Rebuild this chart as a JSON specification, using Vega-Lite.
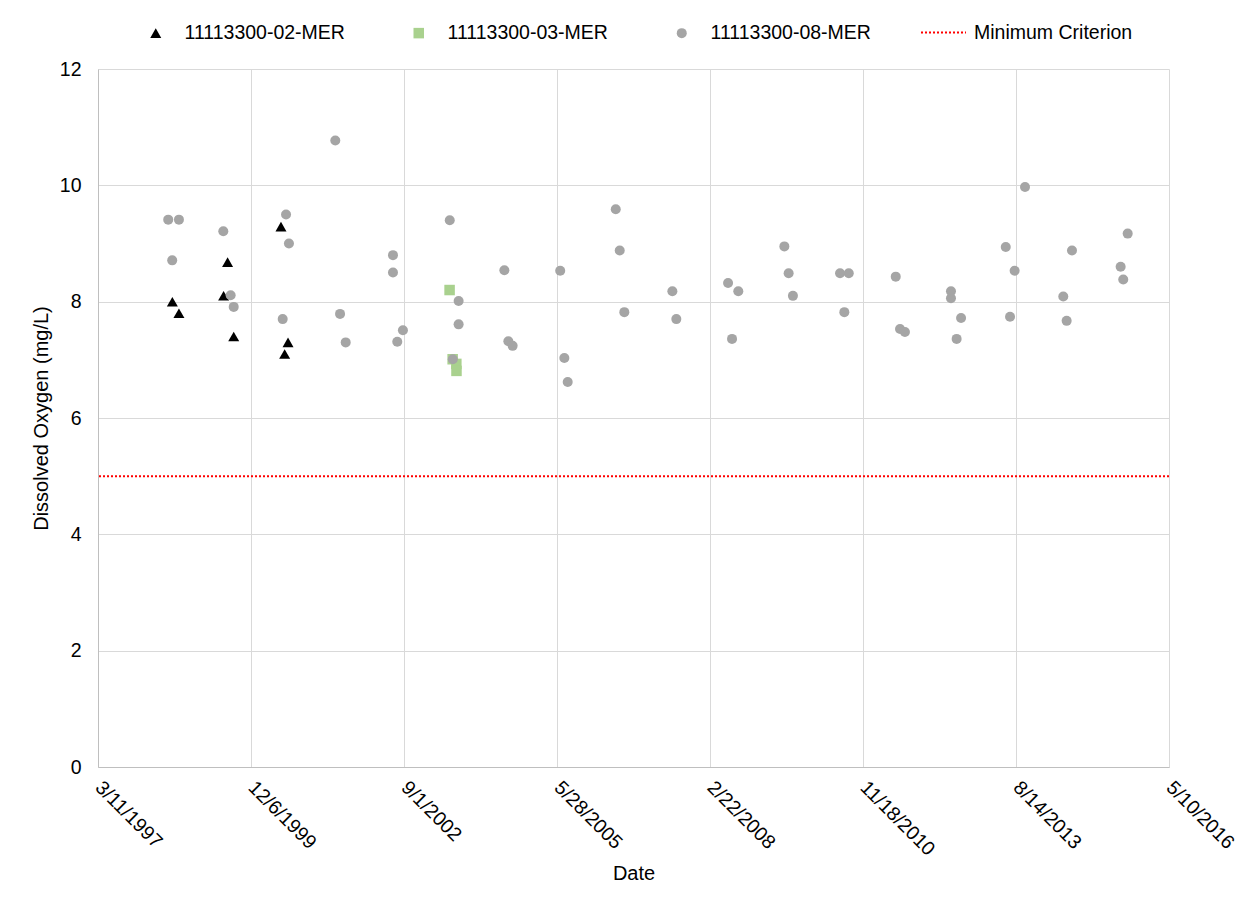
{
  "$schema": "https://vega.github.io/schema/vega-lite/v6.json",
  "width": 1071,
  "height": 698,
  "autosize": {"type": "none"},
  "padding": {"left": 98, "top": 69, "right": 81, "bottom": 136},
  "background": "white",
  "config": {
    "font": "Liberation Sans",
    "view": {"stroke": null},
    "axis": {
      "labelFont": "Liberation Sans",
      "titleFont": "Liberation Sans",
      "labelColor": "#000000",
      "titleColor": "#000000",
      "labelFontSize": 19.5,
      "titleFontSize": 20,
      "titleFontWeight": "normal",
      "gridColor": "#D9D9D9",
      "gridWidth": 1,
      "domainColor": "#BFBFBF",
      "ticks": false,
      "tickSize": 0
    },
    "legend": {
      "labelFont": "Liberation Sans",
      "labelFontSize": 19.5,
      "labelColor": "#000000",
      "labelLimit": 0,
      "padding": 0
    }
  },
  "layer": [
    {
      "data": {
        "values": [
          {"date": "1998-07-10", "do": 8.00, "site": "11113300-02-MER"},
          {"date": "1998-08-22", "do": 7.80, "site": "11113300-02-MER"},
          {"date": "1999-06-10", "do": 8.10, "site": "11113300-02-MER"},
          {"date": "1999-07-06", "do": 8.68, "site": "11113300-02-MER"},
          {"date": "1999-08-15", "do": 7.40, "site": "11113300-02-MER"},
          {"date": "2000-06-19", "do": 9.29, "site": "11113300-02-MER"},
          {"date": "2000-07-13", "do": 7.10, "site": "11113300-02-MER"},
          {"date": "2000-08-04", "do": 7.30, "site": "11113300-02-MER"},
          {"date": "2003-06-26", "do": 8.20, "site": "11113300-03-MER"},
          {"date": "2003-07-16", "do": 7.01, "site": "11113300-03-MER"},
          {"date": "2003-08-09", "do": 6.93, "site": "11113300-03-MER"},
          {"date": "2003-08-10", "do": 6.81, "site": "11113300-03-MER"},
          {"date": "1998-06-13", "do": 9.41, "site": "11113300-08-MER"},
          {"date": "1998-08-22", "do": 9.41, "site": "11113300-08-MER"},
          {"date": "1998-07-09", "do": 8.71, "site": "11113300-08-MER"},
          {"date": "1999-06-08", "do": 9.21, "site": "11113300-08-MER"},
          {"date": "1999-07-26", "do": 8.11, "site": "11113300-08-MER"},
          {"date": "1999-08-15", "do": 7.91, "site": "11113300-08-MER"},
          {"date": "2000-07-22", "do": 9.50, "site": "11113300-08-MER"},
          {"date": "2000-08-10", "do": 9.00, "site": "11113300-08-MER"},
          {"date": "2000-06-30", "do": 7.70, "site": "11113300-08-MER"},
          {"date": "2001-06-09", "do": 10.77, "site": "11113300-08-MER"},
          {"date": "2001-07-10", "do": 7.79, "site": "11113300-08-MER"},
          {"date": "2001-08-16", "do": 7.30, "site": "11113300-08-MER"},
          {"date": "2002-06-21", "do": 8.80, "site": "11113300-08-MER"},
          {"date": "2002-06-21", "do": 8.50, "site": "11113300-08-MER"},
          {"date": "2002-07-19", "do": 7.31, "site": "11113300-08-MER"},
          {"date": "2002-08-25", "do": 7.51, "site": "11113300-08-MER"},
          {"date": "2003-06-27", "do": 9.40, "site": "11113300-08-MER"},
          {"date": "2003-07-17", "do": 7.01, "site": "11113300-08-MER"},
          {"date": "2003-08-24", "do": 8.01, "site": "11113300-08-MER"},
          {"date": "2003-08-24", "do": 7.61, "site": "11113300-08-MER"},
          {"date": "2004-06-18", "do": 8.54, "site": "11113300-08-MER"},
          {"date": "2004-07-14", "do": 7.32, "site": "11113300-08-MER"},
          {"date": "2004-08-11", "do": 7.24, "site": "11113300-08-MER"},
          {"date": "2005-06-18", "do": 8.53, "site": "11113300-08-MER"},
          {"date": "2005-07-15", "do": 7.03, "site": "11113300-08-MER"},
          {"date": "2005-08-06", "do": 6.62, "site": "11113300-08-MER"},
          {"date": "2006-06-16", "do": 9.59, "site": "11113300-08-MER"},
          {"date": "2006-07-12", "do": 8.88, "site": "11113300-08-MER"},
          {"date": "2006-08-11", "do": 7.82, "site": "11113300-08-MER"},
          {"date": "2007-06-21", "do": 8.18, "site": "11113300-08-MER"},
          {"date": "2007-07-17", "do": 7.70, "site": "11113300-08-MER"},
          {"date": "2008-06-19", "do": 8.32, "site": "11113300-08-MER"},
          {"date": "2008-07-15", "do": 7.36, "site": "11113300-08-MER"},
          {"date": "2008-08-25", "do": 8.18, "site": "11113300-08-MER"},
          {"date": "2009-06-22", "do": 8.95, "site": "11113300-08-MER"},
          {"date": "2009-07-20", "do": 8.49, "site": "11113300-08-MER"},
          {"date": "2009-08-17", "do": 8.10, "site": "11113300-08-MER"},
          {"date": "2010-06-21", "do": 8.49, "site": "11113300-08-MER"},
          {"date": "2010-07-19", "do": 7.82, "site": "11113300-08-MER"},
          {"date": "2010-08-17", "do": 8.49, "site": "11113300-08-MER"},
          {"date": "2011-06-20", "do": 8.43, "site": "11113300-08-MER"},
          {"date": "2011-07-18", "do": 7.53, "site": "11113300-08-MER"},
          {"date": "2011-08-19", "do": 7.48, "site": "11113300-08-MER"},
          {"date": "2012-06-15", "do": 8.18, "site": "11113300-08-MER"},
          {"date": "2012-06-15", "do": 8.06, "site": "11113300-08-MER"},
          {"date": "2012-07-22", "do": 7.36, "site": "11113300-08-MER"},
          {"date": "2012-08-20", "do": 7.72, "site": "11113300-08-MER"},
          {"date": "2013-06-08", "do": 8.94, "site": "11113300-08-MER"},
          {"date": "2013-07-06", "do": 7.74, "site": "11113300-08-MER"},
          {"date": "2013-08-05", "do": 8.53, "site": "11113300-08-MER"},
          {"date": "2013-10-12", "do": 9.97, "site": "11113300-08-MER"},
          {"date": "2014-06-19", "do": 8.09, "site": "11113300-08-MER"},
          {"date": "2014-07-11", "do": 7.67, "site": "11113300-08-MER"},
          {"date": "2014-08-15", "do": 8.88, "site": "11113300-08-MER"},
          {"date": "2015-06-29", "do": 8.60, "site": "11113300-08-MER"},
          {"date": "2015-07-16", "do": 8.38, "site": "11113300-08-MER"},
          {"date": "2015-08-14", "do": 9.17, "site": "11113300-08-MER"}
        ]
      },
      "mark": {"type": "point", "filled": true, "opacity": 1},
      "encoding": {
        "x": {
          "field": "date",
          "type": "temporal",
          "title": "Date",
          "scale": {
            "type": "utc",
            "domain": [
              {"year": 1997, "month": 3, "date": 11, "utc": true},
              {"year": 2016, "month": 5, "date": 10, "utc": true}
            ],
            "nice": false
          },
          "axis": {
            "values": [
              {"year": 1997, "month": 3, "date": 11, "utc": true},
              {"year": 1999, "month": 12, "date": 6, "utc": true},
              {"year": 2002, "month": 9, "date": 1, "utc": true},
              {"year": 2005, "month": 5, "date": 28, "utc": true},
              {"year": 2008, "month": 2, "date": 22, "utc": true},
              {"year": 2010, "month": 11, "date": 18, "utc": true},
              {"year": 2013, "month": 8, "date": 14, "utc": true},
              {"year": 2016, "month": 5, "date": 10, "utc": true}
            ],
            "labelExpr": "utcFormat(datum.value, '%-m/%-d/%Y')",
            "labelAngle": 45,
            "labelAlign": "left",
            "labelBaseline": "middle",
            "labelPadding": 17,
            "labelOverlap": false,
            "labelFlush": false,
            "labelBound": false,
            "grid": true,
            "domain": true,
            "titlePadding": 5
          }
        },
        "y": {
          "field": "do",
          "type": "quantitative",
          "title": "Dissolved Oxygen (mg/L)",
          "scale": {"domain": [0, 12], "nice": false, "zero": true},
          "axis": {
            "values": [0, 2, 4, 6, 8, 10, 12],
            "format": "d",
            "labelPadding": 17,
            "grid": true,
            "domain": true,
            "titlePadding": 8
          }
        },
        "color": {
          "field": "site",
          "type": "nominal",
          "scale": {
            "domain": ["11113300-02-MER", "11113300-03-MER", "11113300-08-MER"],
            "range": ["#000000", "#A9D18E", "#A5A5A5"]
          },
          "legend": {
            "title": null,
            "orient": "none",
            "direction": "horizontal",
            "legendX": 48,
            "legendY": -46,
            "symbolSize": 60,
            "labelOffset": 19,
            "columnPadding": 64,
            "symbolStrokeWidth": 0,
            "symbolOpacity": 1
          }
        },
        "shape": {
          "field": "site",
          "type": "nominal",
          "scale": {
            "domain": ["11113300-02-MER", "11113300-03-MER", "11113300-08-MER"],
            "range": ["triangle-up", "square", "circle"]
          },
          "legend": {
            "title": null,
            "orient": "none",
            "direction": "horizontal",
            "legendX": 48,
            "legendY": -46,
            "symbolSize": 60,
            "labelOffset": 19,
            "columnPadding": 64,
            "symbolStrokeWidth": 0,
            "symbolOpacity": 1
          }
        },
        "size": {
          "field": "site",
          "type": "nominal",
          "scale": {
            "domain": ["11113300-02-MER", "11113300-03-MER", "11113300-08-MER"],
            "range": [121, 100, 81]
          },
          "legend": null
        }
      }
    },
    {
      "data": {"values": [{"criterion": 5, "label": "Minimum Criterion"}]},
      "mark": {"type": "rule", "color": "#FF0000", "strokeWidth": 2},
      "encoding": {
        "y": {"field": "criterion", "type": "quantitative"},
        "strokeDash": {
          "field": "label",
          "type": "nominal",
          "scale": {"domain": ["Minimum Criterion"], "range": [[2, 2]]},
          "legend": {
            "title": null,
            "orient": "none",
            "legendX": 822,
            "legendY": -60,
            "symbolSize": 2025,
            "symbolStrokeColor": "#FF0000",
            "symbolStrokeWidth": 2,
            "labelOffset": 7
          }
        }
      }
    }
  ]
}
